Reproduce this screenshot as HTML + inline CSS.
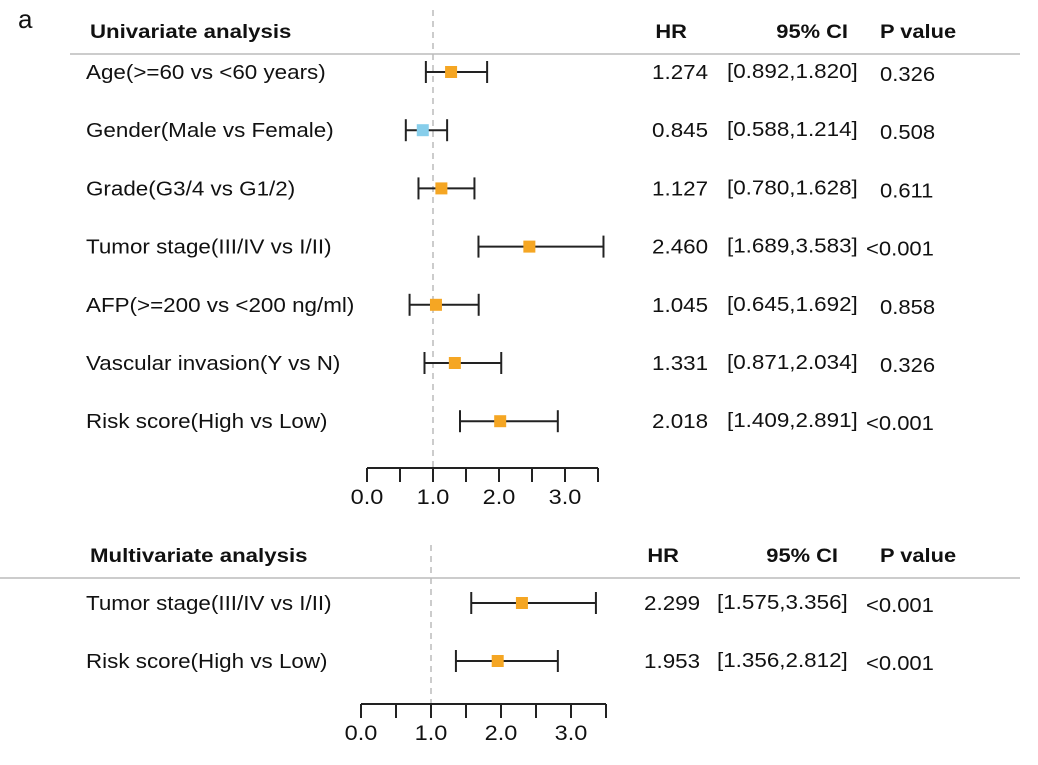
<!DOCTYPE html>
<html><head><meta charset="utf-8"><style>
body{margin:0;background:#fff;width:1038px;height:760px;overflow:hidden}
svg text{font-family:"Liberation Sans",Arial,sans-serif;fill:#111}
</style></head><body>
<svg width="1038" height="760" id="svg">
<text x="18" y="28" font-size="26">a</text>
</svg>
<script>
const uniLabels=["Age(>=60 vs <60 years)","Gender(Male vs Female)","Grade(G3/4 vs G1/2)","Tumor stage(III/IV vs I/II)","AFP(>=200 vs <200 ng/ml)","Vascular invasion(Y vs N)","Risk score(High vs Low)"];
const uniHR=[1.274,0.845,1.127,2.460,1.045,1.331,2.018];
const uniLow=[0.892,0.588,0.780,1.689,0.645,0.871,1.409];
const uniHigh=[1.820,1.214,1.628,3.583,1.692,2.034,2.891];
const uniP=["0.326","0.508","0.611","<0.001","0.858","0.326","<0.001"];
const multiLabels=["Tumor stage(III/IV vs I/II)","Risk score(High vs Low)"];
const multiHR=[2.299,1.953];
const multiLow=[1.575,1.356];
const multiHigh=[3.356,2.812];
const multiP=["<0.001","<0.001"];
const ticks=[0,0.5,1,1.5,2,2.5,3,3.5];
const tickLabels=["0.0","","1.0","","2.0","","3.0",""];
const svg=document.getElementById('svg');const NS="http://www.w3.org/2000/svg";
function mk(t,a,txt){const e=document.createElementNS(NS,t);for(const k in a)e.setAttribute(k,a[k]);if(txt!=null)e.textContent=txt;svg.appendChild(e);return e;}
function stretch(e,f){const w=e.getComputedTextLength();e.setAttribute('textLength',(w*f).toFixed(1));e.setAttribute('lengthAdjust','spacingAndGlyphs');}
function panel(cfg){
 const xs=v=>cfg.x0+v*cfg.ppu;
 let e=mk('text',{x:90,y:cfg.hy,'font-size':19,'font-weight':'bold'},cfg.title);
 stretch(e,1.17);
 
 
 [["HR",cfg.hrx-23,'end'],["95% CI",cfg.cix,'end'],["P value",cfg.px,'start']].forEach(h=>{
  e=mk('text',{x:h[1],y:cfg.hy,'font-size':19,'font-weight':'bold','text-anchor':h[2]},h[0]);
  stretch(e,1.15);
  
  });
 e=mk('line',{x1:cfg.lx,x2:1020,y1:cfg.hy+16,y2:cfg.hy+16,stroke:'#bbb','stroke-width':1.5});
 
 
 e=mk('line',{x1:xs(1),x2:xs(1),y1:cfg.dtop,y2:cfg.ay,stroke:'#bbb','stroke-width':1.5,'stroke-dasharray':'6,5'});
 
 
 cfg.labels.forEach((lab,i)=>{
  const y=cfg.y0+i*cfg.dy;
  e=mk('text',{x:86,y:y+7,'font-size':20},lab);
  stretch(e,1.12);
  
  
  e=mk('line',{x1:xs(cfg.low[i]),x2:xs(cfg.high[i]),y1:y,y2:y,stroke:'#222','stroke-width':2});
  
  
  [cfg.low[i],cfg.high[i]].forEach(v=>{e=mk('line',{x1:xs(v),x2:xs(v),y1:y-11,y2:y+11,stroke:'#222','stroke-width':2});
   
   });
  e=mk('rect',{x:xs(cfg.hr[i])-6,y:y-6,width:12,height:12,fill:cfg.hr[i]<1?'#87CEEB':'#F5A623'});
  
  
  e=mk('text',{x:cfg.hrx-58,y:y+7,'font-size':20},cfg.hr[i].toFixed(3));
  stretch(e,1.12);
  
  
  e=mk('text',{x:cfg.cil,y:y+6,'font-size':20},'['+cfg.low[i].toFixed(3)+','+cfg.high[i].toFixed(3)+']');
  stretch(e,1.12);
  
  
  e=mk('text',{x:cfg.p[i][0]=='<'?cfg.px-14:cfg.px,y:y+9,'font-size':20},cfg.p[i]);
  stretch(e,1.1);
  
  
 });
 e=mk('line',{x1:xs(0),x2:xs(3.5),y1:cfg.ay,y2:cfg.ay,stroke:'#222','stroke-width':2});
 
 
 ticks.forEach((t,i)=>{
  e=mk('line',{x1:xs(t),x2:xs(t),y1:cfg.ay,y2:cfg.ay+14,stroke:'#222','stroke-width':2});
  
  
  if(tickLabels[i]){e=mk('text',{x:xs(t),y:cfg.ay+36,'font-size':21,'text-anchor':'middle'},tickLabels[i]);
  stretch(e,1.12);
  
  }
 });
}
panel({title:"Univariate analysis",hy:38,lx:70,dtop:10,x0:367,ppu:66,ay:468,y0:72,dy:58.2,labels:uniLabels,hr:uniHR,low:uniLow,high:uniHigh,p:uniP,hrx:710,cix:848,cil:727,px:880});
panel({title:"Multivariate analysis",hy:562,lx:0,dtop:545,x0:361,ppu:70,ay:704,y0:603,dy:58,labels:multiLabels,hr:multiHR,low:multiLow,high:multiHigh,p:multiP,hrx:702,cix:838,cil:717,px:880});
</script>
</body></html>
